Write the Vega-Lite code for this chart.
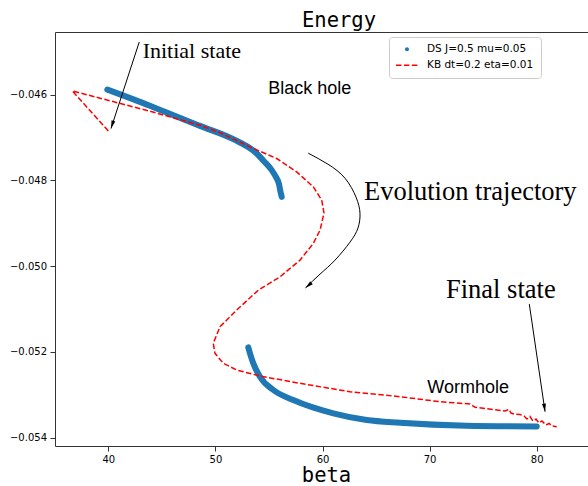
{
  "$schema": "https://vega.github.io/schema/vega-lite/v6.json",
  "width": 533,
  "height": 414,
  "autosize": {"type": "none"},
  "padding": {"left": 55, "top": 32, "right": 0, "bottom": 40},
  "background": "white",
  "title": {"text": "Energy", "font": "DejaVu Sans Mono", "fontSize": 20.5, "fontWeight": "normal", "color": "#000", "anchor": "middle", "dx": 17.5, "dy": 21, "offset": 6, "baseline": "alphabetic"},
  "config": {
    "view": {"stroke": null},
    "axis": {"grid": false, "domainColor": "#333", "domainWidth": 1, "tickColor": "#000", "tickWidth": 0.8, "labelColor": "#000", "labelFont": "DejaVu Sans", "labelFontSize": 10}
  },
  "resolve": {"axis": {"x": "independent", "y": "independent"}},
  "datasets": {
    "traj": [
      {"series": "DS J=0.5 mu=0.05", "branch": 1, "i": 0, "beta": 39.91, "E": -0.045884},
      {"series": "DS J=0.5 mu=0.05", "branch": 1, "i": 1, "beta": 43.89, "E": -0.046261},
      {"series": "DS J=0.5 mu=0.05", "branch": 1, "i": 2, "beta": 45.45, "E": -0.046419},
      {"series": "DS J=0.5 mu=0.05", "branch": 1, "i": 3, "beta": 48.56, "E": -0.046731},
      {"series": "DS J=0.5 mu=0.05", "branch": 1, "i": 4, "beta": 51.67, "E": -0.047041},
      {"series": "DS J=0.5 mu=0.05", "branch": 1, "i": 5, "beta": 53.86, "E": -0.047374},
      {"series": "DS J=0.5 mu=0.05", "branch": 1, "i": 6, "beta": 54.54, "E": -0.047554},
      {"series": "DS J=0.5 mu=0.05", "branch": 1, "i": 7, "beta": 55.26, "E": -0.047763},
      {"series": "DS J=0.5 mu=0.05", "branch": 1, "i": 8, "beta": 55.66, "E": -0.047926},
      {"series": "DS J=0.5 mu=0.05", "branch": 1, "i": 9, "beta": 55.94, "E": -0.048089},
      {"series": "DS J=0.5 mu=0.05", "branch": 1, "i": 10, "beta": 56.06, "E": -0.048246},
      {"series": "DS J=0.5 mu=0.05", "branch": 1, "i": 11, "beta": 56.19, "E": -0.048385},
      {"series": "DS J=0.5 mu=0.05", "branch": 2, "i": 0, "beta": 53.07, "E": -0.051893},
      {"series": "DS J=0.5 mu=0.05", "branch": 2, "i": 1, "beta": 53.23, "E": -0.052033},
      {"series": "DS J=0.5 mu=0.05", "branch": 2, "i": 2, "beta": 53.54, "E": -0.052266},
      {"series": "DS J=0.5 mu=0.05", "branch": 2, "i": 3, "beta": 54.16, "E": -0.052578},
      {"series": "DS J=0.5 mu=0.05", "branch": 2, "i": 4, "beta": 55.41, "E": -0.052888},
      {"series": "DS J=0.5 mu=0.05", "branch": 2, "i": 5, "beta": 57.27, "E": -0.053121},
      {"series": "DS J=0.5 mu=0.05", "branch": 2, "i": 6, "beta": 61.01, "E": -0.053431},
      {"series": "DS J=0.5 mu=0.05", "branch": 2, "i": 7, "beta": 64.13, "E": -0.053587},
      {"series": "DS J=0.5 mu=0.05", "branch": 2, "i": 8, "beta": 67.24, "E": -0.053650},
      {"series": "DS J=0.5 mu=0.05", "branch": 2, "i": 9, "beta": 73.46, "E": -0.053720},
      {"series": "DS J=0.5 mu=0.05", "branch": 2, "i": 10, "beta": 80.00, "E": -0.053738},
      {"series": "KB dt=0.2 eta=0.01", "branch": 0, "i": 0, "beta": 40.00, "E": -0.046848},
      {"series": "KB dt=0.2 eta=0.01", "branch": 0, "i": 1, "beta": 36.64, "E": -0.045916},
      {"series": "KB dt=0.2 eta=0.01", "branch": 0, "i": 2, "beta": 43.89, "E": -0.046389},
      {"series": "KB dt=0.2 eta=0.01", "branch": 0, "i": 3, "beta": 48.56, "E": -0.046715},
      {"series": "KB dt=0.2 eta=0.01", "branch": 0, "i": 4, "beta": 50.43, "E": -0.046890},
      {"series": "KB dt=0.2 eta=0.01", "branch": 0, "i": 5, "beta": 53.23, "E": -0.047221},
      {"series": "KB dt=0.2 eta=0.01", "branch": 0, "i": 6, "beta": 55.72, "E": -0.047491},
      {"series": "KB dt=0.2 eta=0.01", "branch": 0, "i": 7, "beta": 57.59, "E": -0.047803},
      {"series": "KB dt=0.2 eta=0.01", "branch": 0, "i": 8, "beta": 59.14, "E": -0.048152},
      {"series": "KB dt=0.2 eta=0.01", "branch": 0, "i": 9, "beta": 59.93, "E": -0.048462},
      {"series": "KB dt=0.2 eta=0.01", "branch": 0, "i": 10, "beta": 60.14, "E": -0.048765},
      {"series": "KB dt=0.2 eta=0.01", "branch": 0, "i": 11, "beta": 59.77, "E": -0.049161},
      {"series": "KB dt=0.2 eta=0.01", "branch": 0, "i": 12, "beta": 59.14, "E": -0.049471},
      {"series": "KB dt=0.2 eta=0.01", "branch": 0, "i": 13, "beta": 57.90, "E": -0.049860},
      {"series": "KB dt=0.2 eta=0.01", "branch": 0, "i": 14, "beta": 56.03, "E": -0.050249},
      {"series": "KB dt=0.2 eta=0.01", "branch": 0, "i": 15, "beta": 54.01, "E": -0.050559},
      {"series": "KB dt=0.2 eta=0.01", "branch": 0, "i": 16, "beta": 51.99, "E": -0.051024},
      {"series": "KB dt=0.2 eta=0.01", "branch": 0, "i": 17, "beta": 50.43, "E": -0.051413},
      {"series": "KB dt=0.2 eta=0.01", "branch": 0, "i": 18, "beta": 49.80, "E": -0.051800},
      {"series": "KB dt=0.2 eta=0.01", "branch": 0, "i": 19, "beta": 49.96, "E": -0.052033},
      {"series": "KB dt=0.2 eta=0.01", "branch": 0, "i": 20, "beta": 50.74, "E": -0.052266},
      {"series": "KB dt=0.2 eta=0.01", "branch": 0, "i": 21, "beta": 51.99, "E": -0.052422},
      {"series": "KB dt=0.2 eta=0.01", "branch": 0, "i": 22, "beta": 54.16, "E": -0.052562},
      {"series": "KB dt=0.2 eta=0.01", "branch": 0, "i": 23, "beta": 57.90, "E": -0.052732},
      {"series": "KB dt=0.2 eta=0.01", "branch": 0, "i": 24, "beta": 62.57, "E": -0.052928},
      {"series": "KB dt=0.2 eta=0.01", "branch": 0, "i": 25, "beta": 67.24, "E": -0.053044},
      {"series": "KB dt=0.2 eta=0.01", "branch": 0, "i": 26, "beta": 70.97, "E": -0.053161},
      {"series": "KB dt=0.2 eta=0.01", "branch": 0, "i": 27, "beta": 73.77, "E": -0.053214},
      {"series": "KB dt=0.2 eta=0.01", "branch": 0, "i": 28, "beta": 74.24, "E": -0.053291},
      {"series": "KB dt=0.2 eta=0.01", "branch": 0, "i": 29, "beta": 77.04, "E": -0.053377},
      {"series": "KB dt=0.2 eta=0.01", "branch": 0, "i": 30, "beta": 77.41, "E": -0.053342},
      {"series": "KB dt=0.2 eta=0.01", "branch": 0, "i": 31, "beta": 77.60, "E": -0.053424},
      {"series": "KB dt=0.2 eta=0.01", "branch": 0, "i": 32, "beta": 77.88, "E": -0.053447},
      {"series": "KB dt=0.2 eta=0.01", "branch": 0, "i": 33, "beta": 78.44, "E": -0.053459},
      {"series": "KB dt=0.2 eta=0.01", "branch": 0, "i": 34, "beta": 78.81, "E": -0.053494},
      {"series": "KB dt=0.2 eta=0.01", "branch": 0, "i": 35, "beta": 79.09, "E": -0.053564},
      {"series": "KB dt=0.2 eta=0.01", "branch": 0, "i": 36, "beta": 79.37, "E": -0.053505},
      {"series": "KB dt=0.2 eta=0.01", "branch": 0, "i": 37, "beta": 79.65, "E": -0.053610},
      {"series": "KB dt=0.2 eta=0.01", "branch": 0, "i": 38, "beta": 79.93, "E": -0.053564},
      {"series": "KB dt=0.2 eta=0.01", "branch": 0, "i": 39, "beta": 80.21, "E": -0.053657},
      {"series": "KB dt=0.2 eta=0.01", "branch": 0, "i": 40, "beta": 80.49, "E": -0.053610},
      {"series": "KB dt=0.2 eta=0.01", "branch": 0, "i": 41, "beta": 80.87, "E": -0.053703},
      {"series": "KB dt=0.2 eta=0.01", "branch": 0, "i": 42, "beta": 81.15, "E": -0.053668},
      {"series": "KB dt=0.2 eta=0.01", "branch": 0, "i": 43, "beta": 81.43, "E": -0.053727},
      {"series": "KB dt=0.2 eta=0.01", "branch": 0, "i": 44, "beta": 81.87, "E": -0.053743}
    ],
    "arrows": [
      {"arrow": "initial", "i": 0, "beta": 42.89, "E": -0.044775},
      {"arrow": "initial", "i": 1, "beta": 40.25, "E": -0.046792},
      {"arrow": "evolution", "i": 0, "beta": 58.67, "E": -0.047367},
      {"arrow": "evolution", "i": 1, "beta": 60.51, "E": -0.047624},
      {"arrow": "evolution", "i": 2, "beta": 62.10, "E": -0.047950},
      {"arrow": "evolution", "i": 3, "beta": 63.13, "E": -0.048392},
      {"arrow": "evolution", "i": 4, "beta": 63.50, "E": -0.048765},
      {"arrow": "evolution", "i": 5, "beta": 63.31, "E": -0.049114},
      {"arrow": "evolution", "i": 6, "beta": 62.57, "E": -0.049440},
      {"arrow": "evolution", "i": 7, "beta": 61.17, "E": -0.049860},
      {"arrow": "evolution", "i": 8, "beta": 59.77, "E": -0.050186},
      {"arrow": "evolution", "i": 9, "beta": 58.41, "E": -0.050507},
      {"arrow": "final", "i": 0, "beta": 79.31, "E": -0.050885},
      {"arrow": "final", "i": 1, "beta": 80.78, "E": -0.053393}
    ],
    "heads": [
      {"arrow": "initial", "beta": 40.25, "E": -0.046792},
      {"arrow": "evolution", "beta": 58.41, "E": -0.050507},
      {"arrow": "final", "beta": 80.78, "E": -0.053393}
    ],
    "notes": [
      {"label": "Initial state", "kind": "serif-small", "beta": 43.21, "E": -0.045138},
      {"label": "Evolution trajectory", "kind": "serif-large", "beta": 63.87, "E": -0.048462},
      {"label": "Final state", "kind": "serif-large", "beta": 71.53, "E": -0.050752},
      {"label": "Black hole", "kind": "sans", "beta": 54.94, "E": -0.045977},
      {"label": "Wormhole", "kind": "sans", "beta": 69.79, "E": -0.052951}
    ]
  },
  "layer": [
    {
      "data": {"name": "traj"},
      "transform": [{"filter": "datum.series === 'DS J=0.5 mu=0.05'"}],
      "mark": {"type": "line", "strokeWidth": 6, "strokeCap": "round", "strokeJoin": "round", "interpolate": "monotone"},
      "encoding": {
        "x": {"field": "beta", "type": "quantitative", "scale": {"domain": [35.023, 84.79], "nice": false, "zero": false},
              "axis": {"orient": "bottom", "values": [40, 50, 60, 70, 80], "tickSize": 5, "labelPadding": 3, "domain": true, "title": "beta", "titleFont": "DejaVu Sans Mono", "titleFontSize": 20.5, "titleFontWeight": "normal", "titleColor": "#000", "titleX": 271, "titleY": 35.5, "titleAlign": "center", "titleBaseline": "alphabetic"}},
        "y": {"field": "E", "type": "quantitative", "scale": {"domain": [-0.054193, -0.044542], "nice": false, "zero": false},
              "axis": {"orient": "left", "values": [-0.054, -0.052, -0.05, -0.048, -0.046], "format": ".3f", "tickSize": 5, "labelPadding": 3.5, "domain": true, "title": null}},
        "color": {"field": "series", "type": "nominal",
                  "scale": {"domain": ["DS J=0.5 mu=0.05", "KB dt=0.2 eta=0.01"], "range": ["#1f77b4", "#ff0000"]},
                  "legend": {"orient": "none", "legendX": 334, "legendY": 5, "title": null,
                             "fillColor": "white", "strokeColor": "#cccccc", "cornerRadius": 3, "padding": 7,
                             "labelFont": "DejaVu Sans", "labelFontSize": 10.5, "labelColor": "#000", "labelOffset": 8,
                             "symbolSize": 484, "symbolType": "stroke", "rowPadding": 5,
                             "encode": {
                               "symbols": {"update": {
                                 "x": {"value": 11},
                                 "shape": {"signal": "datum.value === 'KB dt=0.2 eta=0.01' ? 'stroke' : 'circle'"},
                                 "size": {"signal": "datum.value === 'KB dt=0.2 eta=0.01' ? 484 : 16"},
                                 "strokeDash": {"signal": "datum.value === 'KB dt=0.2 eta=0.01' ? [5.5, 2.4] : [1, 0]"},
                                 "strokeWidth": {"signal": "datum.value === 'KB dt=0.2 eta=0.01' ? 1.5 : 0"},
                                 "fill": {"signal": "datum.value === 'KB dt=0.2 eta=0.01' ? 'transparent' : '#1f77b4'"},
                                 "stroke": {"signal": "datum.value === 'KB dt=0.2 eta=0.01' ? '#ff0000' : '#1f77b4'"},
                                 "opacity": {"value": 1}
                               }},
                               "labels": {"update": {"x": {"value": 31}}}
                             }}},
        "detail": {"field": "branch", "type": "nominal"},
        "order": {"field": "i", "type": "quantitative"}
      }
    },
    {
      "data": {"name": "traj"},
      "transform": [{"filter": "datum.series === 'KB dt=0.2 eta=0.01'"}],
      "mark": {"type": "line", "strokeWidth": 1.5, "strokeDash": [5.5, 2.4]},
      "encoding": {
        "x": {"field": "beta", "type": "quantitative", "axis": null},
        "y": {"field": "E", "type": "quantitative", "axis": null},
        "color": {"field": "series", "type": "nominal"},
        "order": {"field": "i", "type": "quantitative"}
      }
    },
    {
      "data": {"name": "arrows"},
      "mark": {"type": "line", "color": "#000", "strokeWidth": 1, "interpolate": "natural"},
      "encoding": {
        "x": {"field": "beta", "type": "quantitative", "axis": {"orient": "top", "labels": false, "ticks": false, "title": null, "domain": true}},
        "y": {"field": "E", "type": "quantitative", "axis": null},
        "detail": {"field": "arrow", "type": "nominal"},
        "order": {"field": "i", "type": "quantitative"}
      }
    },
    {
      "data": {"name": "heads"},
      "transform": [{"filter": "datum.arrow === 'initial'"}],
      "mark": {"type": "point", "shape": "M0,0L0.55,2.2L-0.55,2.2Z", "size": 52, "filled": true, "color": "#000", "opacity": 1, "angle": 198},
      "encoding": {
        "x": {"field": "beta", "type": "quantitative", "axis": null},
        "y": {"field": "E", "type": "quantitative", "axis": null}
      }
    },
    {
      "data": {"name": "heads"},
      "transform": [{"filter": "datum.arrow === 'evolution'"}],
      "mark": {"type": "point", "shape": "M0,0L0.55,2.2L-0.55,2.2Z", "size": 52, "filled": true, "color": "#000", "opacity": 1, "angle": 229},
      "encoding": {
        "x": {"field": "beta", "type": "quantitative", "axis": null},
        "y": {"field": "E", "type": "quantitative", "axis": null}
      }
    },
    {
      "data": {"name": "heads"},
      "transform": [{"filter": "datum.arrow === 'final'"}],
      "mark": {"type": "point", "shape": "M0,0L0.55,2.2L-0.55,2.2Z", "size": 52, "filled": true, "color": "#000", "opacity": 1, "angle": 172},
      "encoding": {
        "x": {"field": "beta", "type": "quantitative", "axis": null},
        "y": {"field": "E", "type": "quantitative", "axis": null}
      }
    },
    {
      "data": {"name": "notes"},
      "transform": [{"filter": "datum.kind === 'serif-small'"}],
      "mark": {"type": "text", "font": "Liberation Serif", "fontSize": 22, "align": "left", "baseline": "alphabetic", "color": "#000"},
      "encoding": {
        "x": {"field": "beta", "type": "quantitative", "axis": null},
        "y": {"field": "E", "type": "quantitative", "axis": null},
        "text": {"field": "label"}
      }
    },
    {
      "data": {"name": "notes"},
      "transform": [{"filter": "datum.kind === 'serif-large'"}],
      "mark": {"type": "text", "font": "Liberation Serif", "fontSize": 26.5, "align": "left", "baseline": "alphabetic", "color": "#000"},
      "encoding": {
        "x": {"field": "beta", "type": "quantitative", "axis": null},
        "y": {"field": "E", "type": "quantitative", "axis": null},
        "text": {"field": "label"}
      }
    },
    {
      "data": {"name": "notes"},
      "transform": [{"filter": "datum.kind === 'sans'"}],
      "mark": {"type": "text", "font": "Liberation Sans", "fontSize": 18, "align": "left", "baseline": "alphabetic", "color": "#000"},
      "encoding": {
        "x": {"field": "beta", "type": "quantitative", "axis": null},
        "y": {"field": "E", "type": "quantitative", "axis": null},
        "text": {"field": "label"}
      }
    }
  ]
}
